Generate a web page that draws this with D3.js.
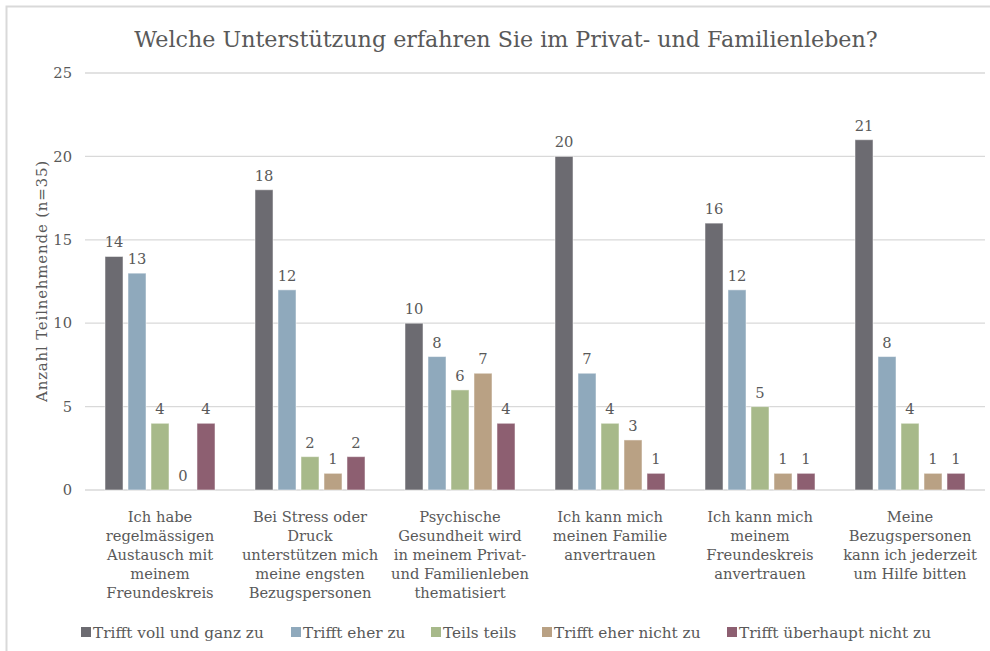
<!DOCTYPE html>
<html>
<head>
<meta charset="utf-8">
<script src="https://cdn.jsdelivr.net/npm/d3@7"></script>
<style>
  html, body { margin: 0; padding: 0; background: #fff; }
  svg { display: block; font-family: "DejaVu Serif", "Liberation Serif", serif; }
</style>
</head>
<body>
<svg id="chart" width="990" height="651"></svg>
<script>
// Survey answers: number of participants per statement and response level
const categories = [
  "Ich habe\nregelmässigen\nAustausch mit\nmeinem\nFreundeskreis",
  "Bei Stress oder\nDruck\nunterstützen mich\nmeine engsten\nBezugspersonen",
  "Psychische\nGesundheit wird\nin meinem Privat-\nund Familienleben\nthematisiert",
  "Ich kann mich\nmeinen Familie\nanvertrauen",
  "Ich kann mich\nmeinem\nFreundeskreis\nanvertrauen",
  "Meine\nBezugspersonen\nkann ich jederzeit\num Hilfe bitten"
];
const seriesNames = [
  "Trifft voll und ganz zu",
  "Trifft eher zu",
  "Teils teils",
  "Trifft eher nicht zu",
  "Trifft überhaupt nicht zu"
];
const trifftVoll      = [14, 18, 10, 20, 16, 21];
const trifftEher      = [13, 12, 8, 7, 12, 8];
const teilsTeils      = [4, 2, 6, 4, 5, 4];
const trifftEherNicht = [0, 1, 7, 3, 1, 1];
const trifftUeberhaupt = [4, 2, 4, 1, 1, 1];
const yTicks = [0, 5, 10, 15, 20, 25];
const colors = ["#6c6b71", "#8fa9bc", "#a7b98a", "#b9a184", "#8d5f71"];

const series = [trifftVoll, trifftEher, teilsTeils, trifftEherNicht, trifftUeberhaupt];
const textColor = "#595959";

const svg = d3.select("#chart");

// outer frame
svg.append("rect")
  .attr("x", 6.5).attr("y", 6.5)
  .attr("width", 990).attr("height", 660)
  .attr("fill", "none").attr("stroke", "#d9d9d9").attr("stroke-width", 2);

const plotLeft = 85, plotRight = 985, plotTop = 73, plotBottom = 490;

const x0 = d3.scaleBand()
  .domain(d3.range(categories.length))
  .range([plotLeft, plotRight])
  .paddingInner(40 / 150)
  .paddingOuter(20 / 150);

const x1 = d3.scaleBand()
  .domain(d3.range(seriesNames.length))
  .range([0, x0.bandwidth()])
  .paddingInner(0.217);

const y = d3.scaleLinear().domain([0, 25]).range([plotBottom, plotTop]);

// gridlines
svg.append("g")
  .selectAll("line")
  .data(yTicks)
  .join("line")
  .attr("x1", plotLeft).attr("x2", plotRight)
  .attr("y1", d => y(d)).attr("y2", d => y(d))
  .attr("stroke", "#d9d9d9").attr("stroke-width", 1.3);

// y axis tick labels
const yAxis = d3.axisLeft(y).tickValues(yTicks).tickSize(0).tickPadding(0);
const gy = svg.append("g").attr("transform", `translate(72,0)`).call(yAxis);
gy.select(".domain").remove();
gy.selectAll("text")
  .attr("fill", textColor)
  .style("font-family", "DejaVu Serif")
  .style("font-size", "14.7px");

// y axis title
svg.append("text")
  .attr("transform", `translate(47,281) rotate(-90)`)
  .attr("text-anchor", "middle")
  .attr("fill", textColor)
  .style("font-size", "15px")
  .style("letter-spacing", "0.8px")
  .text("Anzahl Teilnehmende (n=35)");

// title
svg.append("text")
  .attr("x", 506).attr("y", 47)
  .attr("text-anchor", "middle")
  .attr("fill", textColor)
  .style("font-size", "22.2px")
  .text("Welche Unterstützung erfahren Sie im Privat- und Familienleben?");

// bars and value labels
const groups = svg.append("g")
  .selectAll("g")
  .data(categories.map((c, i) => i))
  .join("g")
  .attr("transform", i => `translate(${x0(i)},0)`);

const cells = groups.selectAll("g")
  .data(i => series.map((s, k) => ({ k, v: s[i] })))
  .join("g");

cells.append("rect")
  .attr("x", d => x1(d.k))
  .attr("width", x1.bandwidth())
  .attr("y", d => y(d.v))
  .attr("height", d => y(0) - y(d.v))
  .attr("fill", d => colors[d.k])
  .attr("stroke", "#ffffff").attr("stroke-opacity", 0.5).attr("stroke-width", 1);

cells.append("text")
  .attr("x", d => x1(d.k) + x1.bandwidth() / 2)
  .attr("y", d => y(d.v) - 9)
  .attr("text-anchor", "middle")
  .attr("fill", textColor)
  .style("font-size", "14.7px")
  .text(d => d.v);

// category labels
const catLabels = svg.append("g")
  .selectAll("text")
  .data(categories)
  .join("text")
  .attr("x", (d, i) => x0(i) + x0.bandwidth() / 2)
  .attr("y", 522)
  .attr("text-anchor", "middle")
  .attr("fill", textColor)
  .style("font-size", "14.7px");
catLabels.selectAll("tspan")
  .data(d => d.split("\n"))
  .join("tspan")
  .attr("x", function () { return this.parentNode.getAttribute("x"); })
  .attr("dy", (d, j) => j === 0 ? 0 : 19)
  .text(d => d);

// legend
const legendX = [81, 291, 431, 542, 727];
const legend = svg.append("g")
  .selectAll("g")
  .data(seriesNames)
  .join("g")
  .attr("transform", (d, i) => `translate(${legendX[i]},632)`);
legend.append("rect")
  .attr("x", 0).attr("y", -5)
  .attr("width", 10).attr("height", 10)
  .attr("fill", (d, i) => colors[i]);
legend.append("text")
  .attr("x", 12).attr("y", 5.5)
  .attr("fill", textColor)
  .style("font-size", "15.3px")
  .text(d => d);
</script>
</body>
</html>
